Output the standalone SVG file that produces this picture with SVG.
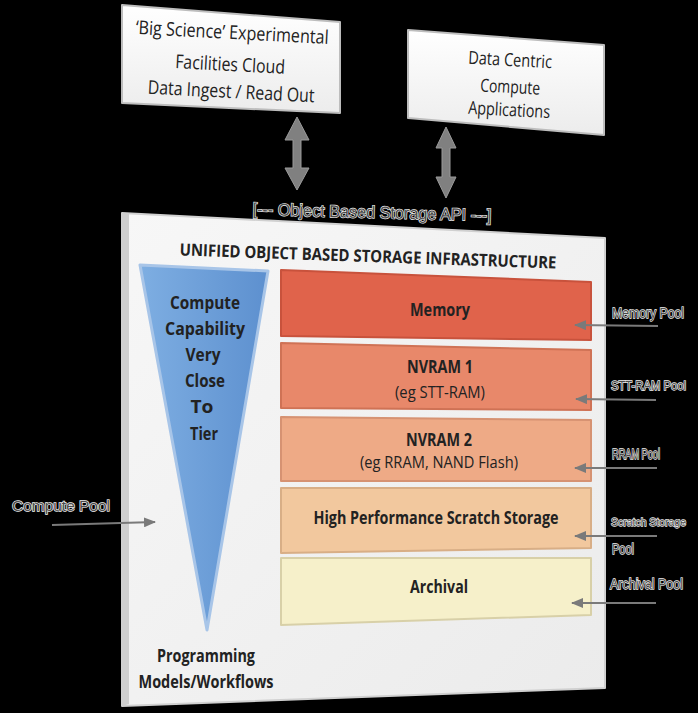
<svg xmlns="http://www.w3.org/2000/svg" width="698" height="713" viewBox="0 0 698 713">
<defs>
<linearGradient id="gBox" x1="0" y1="0" x2="0" y2="1"><stop offset="0" stop-color="#ffffff"/><stop offset="1" stop-color="#ececec"/></linearGradient>
<linearGradient id="gPanel" x1="0" y1="0" x2="1" y2="1"><stop offset="0" stop-color="#f7f7f7"/><stop offset="1" stop-color="#ebebeb"/></linearGradient>
<linearGradient id="gTri" x1="0" y1="0" x2="1" y2="0"><stop offset="0" stop-color="#7eaee2"/><stop offset="1" stop-color="#5d90cf"/></linearGradient>
<marker id="ah" viewBox="0 0 12 10" refX="11" refY="5" markerWidth="12" markerHeight="10" markerUnits="userSpaceOnUse" orient="auto"><path d="M0,0 L12,5 L0,10 Z" fill="#7a7a7a"/></marker>
</defs>
<style>
.box{fill:url(#gBox);stroke:#bdbdbd;stroke-width:2;stroke-linejoin:round}
.t{font-family:"Open Sans","Liberation Sans",sans-serif;fill:#222}
.b{font-weight:bold}
.lbl{font-family:"Liberation Sans",sans-serif;fill:#4a4a4a;stroke:#f2f2f2;stroke-width:1.3px;paint-order:stroke}
.ln{stroke:#7a7a7a;stroke-width:2.2;fill:none}
.bar{stroke-width:2;stroke-linejoin:round}
.big{fill:#808080;stroke:#9a9a9a;stroke-width:1}
</style>
<rect width="698" height="713" fill="#000"/>

<g id="node-bigscience">
<polygon class="box" points="122,5 340,22 340,113 122,103"/>
<text class="t" font-size="19" transform="rotate(3 232 37)" text-anchor="middle" x="232" y="39" textLength="193" lengthAdjust="spacingAndGlyphs">‘Big Science’ Experimental</text>
<text class="t" font-size="19" transform="rotate(3 230 68)" text-anchor="middle" x="230" y="71" textLength="110" lengthAdjust="spacingAndGlyphs">Facilities Cloud</text>
<text class="t" font-size="19" transform="rotate(3 231 95)" text-anchor="middle" x="231" y="98" textLength="167" lengthAdjust="spacingAndGlyphs">Data Ingest / Read Out</text>
</g>

<g id="node-datacentric">
<polygon class="box" points="408,30 604,45 604,135 408,118"/>
<text class="t" font-size="18" transform="rotate(3 510 63)" text-anchor="middle" x="510" y="66" textLength="84" lengthAdjust="spacingAndGlyphs">Data Centric</text>
<text class="t" font-size="18" transform="rotate(3 510 90)" text-anchor="middle" x="510" y="93" textLength="60" lengthAdjust="spacingAndGlyphs">Compute</text>
<text class="t" font-size="18" transform="rotate(3 509 113)" text-anchor="middle" x="509" y="116" textLength="82" lengthAdjust="spacingAndGlyphs">Applications</text>
</g>

<g id="node-api">
<text class="lbl" font-size="17" transform="rotate(1.5 372 213)" text-anchor="middle" x="372" y="218" textLength="239" lengthAdjust="spacingAndGlyphs">[--- Object Based Storage API ---]</text>
</g>

<g id="node-panel">
<polygon points="122,213 605,238 605,688 122,706" fill="url(#gPanel)" stroke="#d0d0d0" stroke-width="2" stroke-linejoin="round"/>
<polygon points="122,213 129,214 129,704 122,706" fill="#cfcfcf"/>
<text class="t b" font-size="17" transform="rotate(2 368 256)" text-anchor="middle" x="368" y="262" textLength="377" lengthAdjust="spacingAndGlyphs">UNIFIED OBJECT BASED STORAGE INFRASTRUCTURE</text>
</g>

<g id="node-compute">
<polygon points="140,265 268,271 207,630" fill="url(#gTri)" stroke="#a8c5e8" stroke-width="3" stroke-linejoin="round"/>
<text class="t b" font-size="18" text-anchor="middle" x="205" y="309" textLength="70" lengthAdjust="spacingAndGlyphs">Compute</text>
<text class="t b" font-size="18" text-anchor="middle" x="205" y="335" textLength="80" lengthAdjust="spacingAndGlyphs">Capability</text>
<text class="t b" font-size="18" text-anchor="middle" x="203" y="361" textLength="35" lengthAdjust="spacingAndGlyphs">Very</text>
<text class="t b" font-size="18" text-anchor="middle" x="205" y="387" textLength="40" lengthAdjust="spacingAndGlyphs">Close</text>
<text class="t b" font-size="18" text-anchor="middle" x="202" y="413" textLength="23" lengthAdjust="spacingAndGlyphs">To</text>
<text class="t b" font-size="18" text-anchor="middle" x="204" y="440" textLength="28" lengthAdjust="spacingAndGlyphs">Tier</text>
</g>

<g id="node-programming">
<text class="t b" font-size="17" text-anchor="middle" x="206" y="662" textLength="98" lengthAdjust="spacingAndGlyphs">Programming</text>
<text class="t b" font-size="17" text-anchor="middle" x="206" y="688" textLength="135" lengthAdjust="spacingAndGlyphs">Models/Workflows</text>
</g>

<g id="node-memory">
<polygon class="bar" points="281,270 591,282 591,340 281,336" fill="#e0634b" stroke="#c8523c"/>
<text class="t b" font-size="17" text-anchor="middle" x="440" y="316" textLength="60" lengthAdjust="spacingAndGlyphs">Memory</text>
</g>

<g id="node-nvram1">
<polygon class="bar" points="281,343 591,350 591,410 281,408" fill="#e8886a" stroke="#cf7255"/>
<text class="t b" font-size="17" text-anchor="middle" x="440" y="373" textLength="66" lengthAdjust="spacingAndGlyphs">NVRAM 1</text>
<text class="t" font-size="17" text-anchor="middle" x="440" y="398" textLength="90" lengthAdjust="spacingAndGlyphs">(eg STT-RAM)</text>
</g>

<g id="node-nvram2">
<polygon class="bar" points="281,417 591,420 591,481 281,481" fill="#eeaa86" stroke="#d69272"/>
<text class="t b" font-size="17" text-anchor="middle" x="439" y="446" textLength="66" lengthAdjust="spacingAndGlyphs">NVRAM 2</text>
<text class="t" font-size="17" text-anchor="middle" x="439" y="468" textLength="158" lengthAdjust="spacingAndGlyphs">(eg RRAM, NAND Flash)</text>
</g>

<g id="node-scratch">
<polygon class="bar" points="281,488 591,488 591,548 281,553" fill="#f2c89e" stroke="#d8ae86"/>
<text class="t b" font-size="17" text-anchor="middle" x="436" y="524" textLength="245" lengthAdjust="spacingAndGlyphs">High Performance Scratch Storage</text>
</g>

<g id="node-archival">
<polygon class="bar" points="281,558 591,558 591,615 281,625" fill="#f6f0ca" stroke="#d8d0a8"/>
<text class="t b" font-size="17" text-anchor="middle" x="439" y="593" textLength="58" lengthAdjust="spacingAndGlyphs">Archival</text>
</g>

<g id="labels">
<text class="lbl" font-size="14" x="612" y="318" textLength="72" lengthAdjust="spacingAndGlyphs">Memory Pool</text>
<text class="lbl" font-size="12" x="611" y="390" textLength="75" lengthAdjust="spacingAndGlyphs">STT-RAM Pool</text>
<text class="lbl" font-size="14" x="612" y="459" textLength="48" lengthAdjust="spacingAndGlyphs">RRAM Pool</text>
<text class="lbl" font-size="11.5" x="611" y="526" textLength="75" lengthAdjust="spacingAndGlyphs">Scratch Storage</text>
<text class="lbl" font-size="14" x="612" y="554" textLength="22" lengthAdjust="spacingAndGlyphs">Pool</text>
<text class="lbl" font-size="14" x="610" y="589" textLength="73" lengthAdjust="spacingAndGlyphs">Archival Pool</text>
<text class="lbl" font-size="14" x="12" y="511" textLength="98" lengthAdjust="spacingAndGlyphs">Compute Pool</text>
</g>

<g id="connectors">
<polygon class="big" points="297,117 309,140 301,140 301,168 309,168 297,190 285,168 293,168 293,140 285,140"/>
<polygon class="big" points="446,127 456,148 450,148 450,177 456,177 446,198 436,177 442,177 442,148 436,148"/>
<line class="ln" x1="658" y1="326" x2="575" y2="325" marker-end="url(#ah)"/>
<line class="ln" x1="656" y1="400" x2="576" y2="399" marker-end="url(#ah)"/>
<line class="ln" x1="657" y1="468" x2="575" y2="468" marker-end="url(#ah)"/>
<line class="ln" x1="657" y1="536" x2="575" y2="536" marker-end="url(#ah)"/>
<line class="ln" x1="656" y1="603" x2="572" y2="603" marker-end="url(#ah)"/>
<line class="ln" x1="52" y1="525" x2="155" y2="522" marker-end="url(#ah)"/>
</g>
</svg>
